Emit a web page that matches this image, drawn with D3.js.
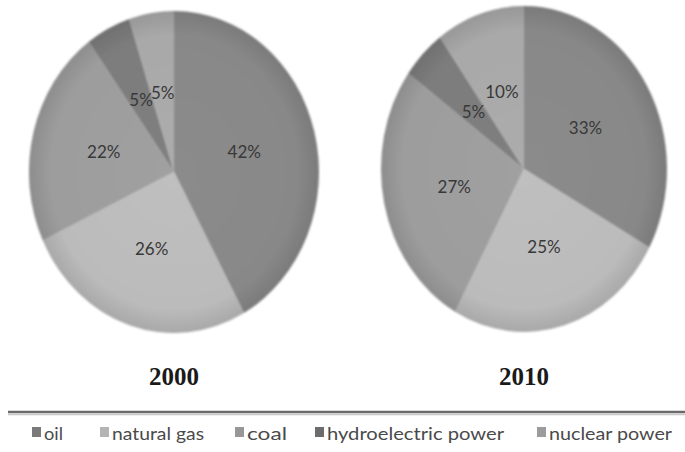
<!DOCTYPE html>
<html>
<head>
<meta charset="utf-8">
<script src="https://cdn.jsdelivr.net/npm/d3@7"></script>
<style>
  html, body { margin: 0; padding: 0; background: #fff; }
  svg { display: block; }
</style>
</head>
<body>
<svg id="chart" width="685" height="452"></svg>
<script>
// data
const sources = ['oil', 'natural gas', 'coal', 'hydroelectric power', 'nuclear power'];
const years = ['2000', '2010'];
const share2000 = [42, 26, 22, 5, 5];
const share2010 = [33, 25, 27, 5, 10];

const sliceColors = ['#8b8b8b', '#bfbfbf', '#a0a0a0', '#7f7f7f', '#acacac'];
const keyColors = ['#7a7a7a', '#b4b4b4', '#979797', '#6c6c6c', '#9c9c9c'];

const svg = d3.select('#chart');

const pies = [
    {year: years[0], values: share2000, cx: 174, cy: 172, rx: 145, ry: 161},
    {year: years[1], values: share2010, cx: 524, cy: 169, rx: 143, ry: 163}
];

const defs = svg.append('defs');
const shade = defs.append('radialGradient').attr('id', 'edge-shade');
shade.append('stop').attr('offset', '0%').attr('stop-color', '#000').attr('stop-opacity', 0);
shade.append('stop').attr('offset', '85%').attr('stop-color', '#000').attr('stop-opacity', 0.02);
shade.append('stop').attr('offset', '100%').attr('stop-color', '#000').attr('stop-opacity', 0.12);

const blur = defs.append('filter').attr('id', 'soft')
    .attr('x', '-5%').attr('y', '-5%').attr('width', '110%').attr('height', '110%');
blur.append('feGaussianBlur').attr('stdDeviation', 0.8);

const pie = d3.pie().sort(null).value(d => d);
const unitArc = d3.arc().innerRadius(0).outerRadius(1);
const labelArc = d3.arc().innerRadius(0.5).outerRadius(0.5);

pies.forEach(p => {

    const arcs = pie(p.values);

    const g = svg.append('g')
        .attr('transform', `translate(${p.cx},${p.cy})`);

    // blur sits on an unscaled wrapper so its radius stays in pixels
    const body = g.append('g')
        .attr('filter', 'url(#soft)')
        .append('g')
        .attr('transform', `scale(${p.rx},${p.ry})`);

    body.selectAll('path.slice')
        .data(arcs)
        .enter()
        .append('path')
        .attr('class', 'slice')
        .attr('d', unitArc)
        .attr('fill', (d, i) => sliceColors[i]);

    body.append('circle')
        .attr('r', 1)
        .attr('fill', 'url(#edge-shade)');

    g.selectAll('text.pct')
        .data(arcs)
        .enter()
        .append('text')
        .attr('class', 'pct')
        .attr('x', d => labelArc.centroid(d)[0] * p.rx)
        .attr('y', d => labelArc.centroid(d)[1] * p.ry)
        .attr('dy', '0.36em')
        .attr('text-anchor', 'middle')
        .style('font-family', 'Lato, "Liberation Sans", sans-serif')
        .style('font-size', '17px')
        .style('fill', '#383838')
        .text(d => `${d.data}%`);

    svg.append('text')
        .attr('x', p.cx)
        .attr('y', 385)
        .attr('text-anchor', 'middle')
        .style('font-family', '"Liberation Serif", "DejaVu Serif", serif')
        .style('font-weight', 'bold')
        .style('font-size', '25px')
        .style('fill', '#1a1a1a')
        .text(p.year);
});

// rule above the key
svg.append('line')
    .attr('x1', 8).attr('x2', 685)
    .attr('y1', 412).attr('y2', 412)
    .attr('stroke', '#6a6a6a')
    .attr('stroke-width', 2.5);
svg.append('line')
    .attr('x1', 8).attr('x2', 685)
    .attr('y1', 414.5).attr('y2', 414.5)
    .attr('stroke', '#c8c8c8')
    .attr('stroke-width', 1.5);

// key
const keyX = [32, 100, 235, 315, 537];
const keyTextWidth = [19, 92, 40, 177, 123];

const key = svg.append('g').attr('class', 'key');

sources.forEach((name, i) => {

    key.append('rect')
        .attr('x', keyX[i])
        .attr('y', 427)
        .attr('width', 9)
        .attr('height', 10)
        .attr('fill', keyColors[i]);

    key.append('text')
        .attr('x', keyX[i] + 12)
        .attr('y', 440)
        .attr('textLength', keyTextWidth[i])
        .attr('lengthAdjust', 'spacingAndGlyphs')
        .style('font-family', 'Lato, "Liberation Sans", sans-serif')
        .style('font-size', '18px')
        .style('fill', '#4a4a4a')
        .text(name);
});
</script>
</body>
</html>
